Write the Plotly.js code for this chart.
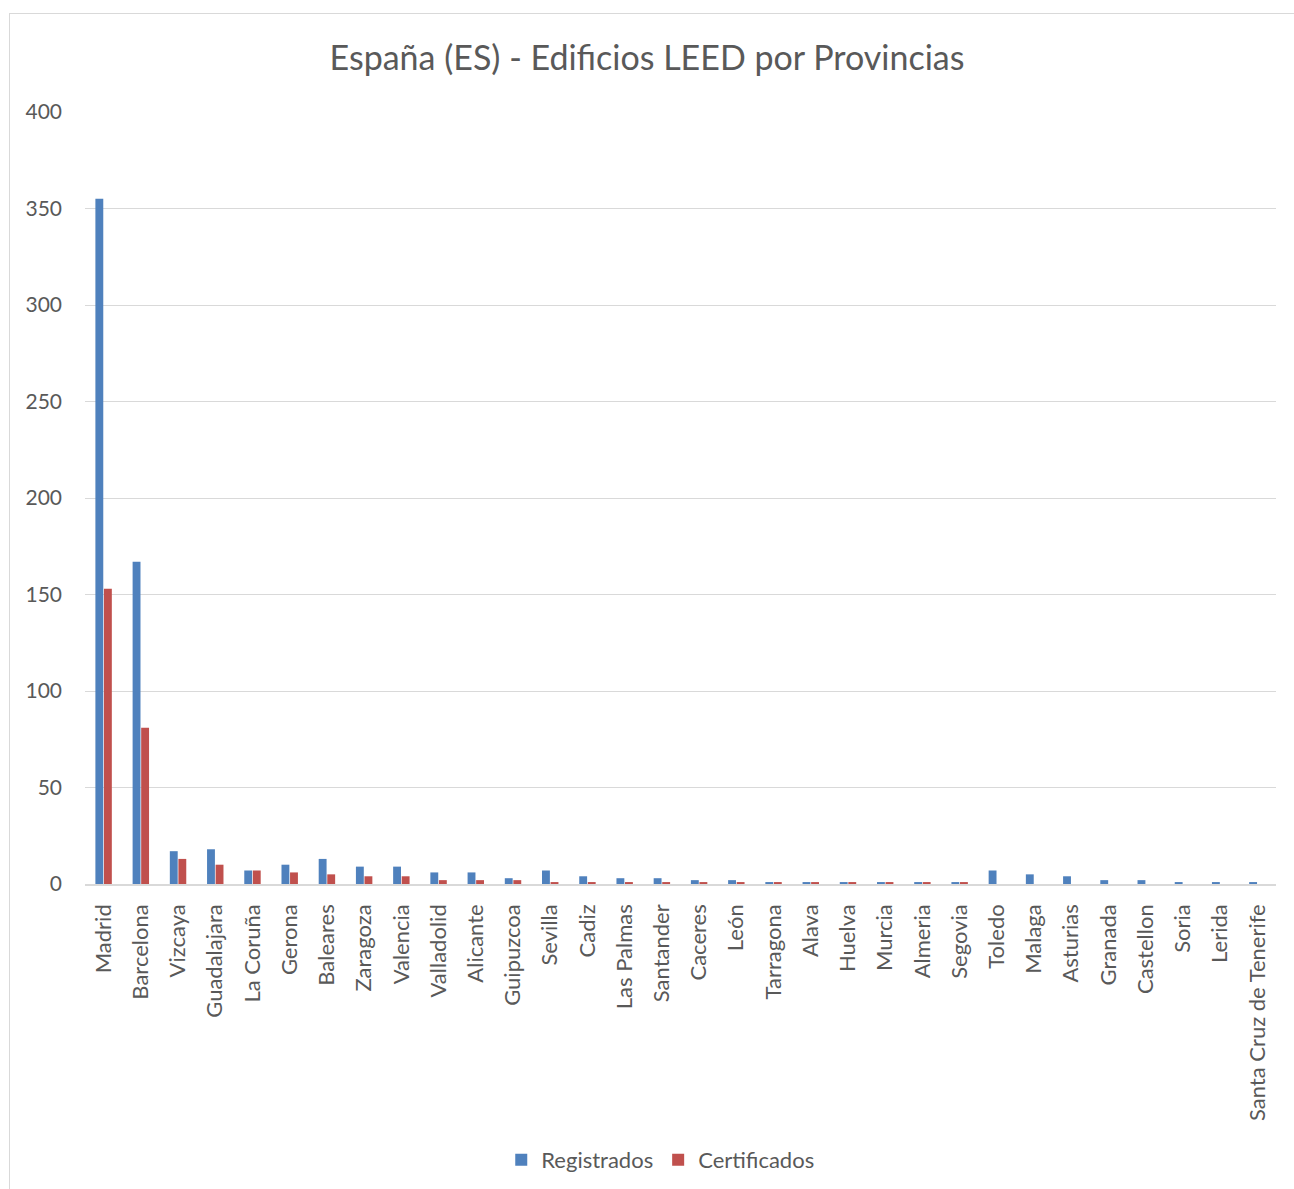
<!DOCTYPE html>
<html><head><meta charset="utf-8">
<script src="https://cdn.plot.ly/plotly-3.0.1.min.js"></script>
<style>
html,body{margin:0;padding:0;background:#fff;}
#frame{position:absolute;left:9px;top:13px;width:1290px;height:1180px;border-left:1px solid #d9d9d9;border-top:1px solid #d9d9d9;pointer-events:none;}
#chart{position:absolute;left:0;top:0;width:1294px;height:1189px;}
</style></head>
<body>
<div id="chart"></div>
<div id="frame"></div>
<script>
const provincias = ["Madrid","Barcelona","Vizcaya","Guadalajara","La Coruña","Gerona","Baleares","Zaragoza","Valencia","Valladolid","Alicante","Guipuzcoa","Sevilla","Cadiz","Las Palmas","Santander","Caceres","León","Tarragona","Alava","Huelva","Murcia","Almeria","Segovia","Toledo","Malaga","Asturias","Granada","Castellon","Soria","Lerida","Santa Cruz de Tenerife"];
const registrados = [355,167,17,18,7,10,13,9,9,6,6,3,7,4,3,3,2,2,1,1,1,1,1,1,7,5,4,2,2,1,1,1];
const certificados = [153,81,13,10,7,6,5,4,4,2,2,2,1,1,1,1,1,1,1,1,1,1,1,1,0,0,0,0,0,0,0,0];
const yTicks = [0,50,100,150,200,250,300,350,400];

const font = "Lato, 'Open Sans', sans-serif";
const data = [
  {type:"bar", name:"Registrados", x:provincias, y:registrados, marker:{color:"#4f81bd"}},
  {type:"bar", name:"Certificados", x:provincias, y:certificados, marker:{color:"#c0504d"}}
];
const layout = {
  width:1294, height:1189,
  paper_bgcolor:"#fff", plot_bgcolor:"#fff",
  margin:{l:85, r:18, t:112, b:305, autoexpand:false},
  barmode:"group", bargap:0.54, bargroupgap:0.08,
  title:{text:"España (ES) - Edificios LEED por Provincias", font:{family:font, size:34, color:"#595959"}, x:0.5, xanchor:"center", y:0.951, yanchor:"middle"},
  font:{family:font, color:"#595959"},
  xaxis:{tickangle:-90, tickfont:{size:22, color:"#595959", family:font}, showline:true, linecolor:"#d9d9d9", linewidth:1.5, ticks:"", showgrid:false, ticklabelstandoff:10, automargin:false, fixedrange:true},
  yaxis:{range:[0,400], tickvals:yTicks, ticktext:yTicks.map(String), tickfont:{size:21, color:"#595959", family:font}, gridcolor:"#d9d9d9", gridwidth:1, zeroline:false, showline:false, ticks:"", ticklabelstandoff:22, automargin:false, fixedrange:true},
  legend:{orientation:"h", x:0.483, xanchor:"center", yref:"container", y:0.0244, yanchor:"middle", font:{size:22, color:"#595959", family:font}, itemwidth:30, traceorder:"normal"},
  showlegend:true
};
Plotly.newPlot("chart", data, layout, {displayModeBar:false, staticPlot:true});
</script>
</body></html>
